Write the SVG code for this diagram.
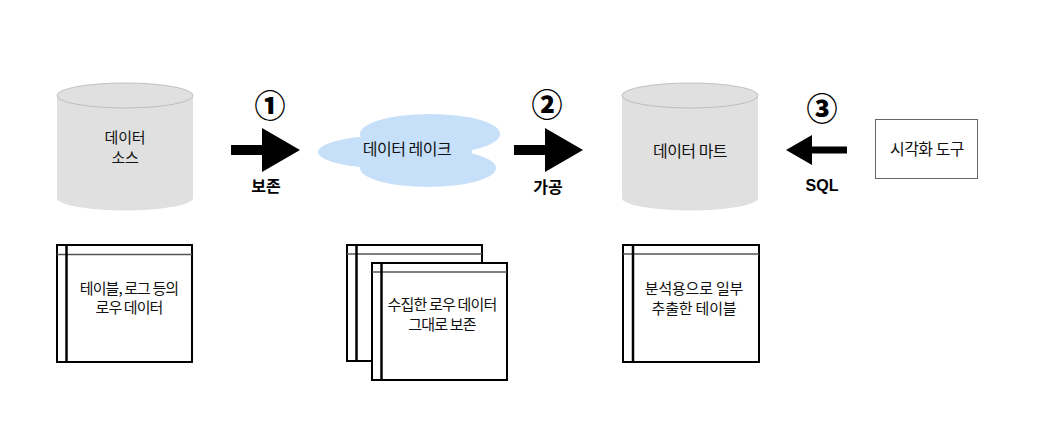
<svg xmlns="http://www.w3.org/2000/svg" width="1038" height="438" viewBox="0 0 1038 438">
<style>
.t{font-family:"Noto Sans CJK KR","Noto Sans",sans-serif;font-size:16px;letter-spacing:-0.5px;font-weight:400;fill:#111;text-anchor:middle}
.m{font-size:15px;letter-spacing:-0.2px}
.b{font-weight:700;fill:#000;letter-spacing:0}
.num{font-family:"Noto Sans CJK KR",sans-serif;font-size:31px;font-weight:900;fill:#000;text-anchor:middle;dominant-baseline:central}
.cyl{fill:#e0e0e0}
.cyltop{fill:#e0e0e0;stroke:#b4b4b4;stroke-width:0.8}
.doc{fill:#fff;stroke:#000;stroke-width:2}
.hdr{stroke:#555;stroke-width:1.5}
.vl{stroke:#000;stroke-width:2.5}
.arr{fill:#000}
</style>
<rect width="1038" height="438" fill="#fff"/>

<g id="data-source">
<path class="cyl" d="M57,95.5 L57,198 A68,12.5 0 0 0 193,198 L193,95.5 Z"/>
<ellipse class="cyltop" cx="125" cy="95.5" rx="68" ry="12.5"/>
<text class="t m" x="125" y="143">데이터</text>
<text class="t m" x="125" y="163">소스</text>
</g>

<g id="data-lake">
<g fill="#c7e0fa">
<ellipse cx="430" cy="134" rx="70" ry="20"/>
<ellipse cx="395" cy="152" rx="77" ry="17"/>
<ellipse cx="428" cy="168" rx="68" ry="19"/>
</g>
<text class="t" x="407" y="155">데이터 레이크</text>
</g>

<g id="data-mart">
<path class="cyl" d="M622,95.5 L622,198 A68,12.5 0 0 0 758,198 L758,95.5 Z"/>
<ellipse class="cyltop" cx="690" cy="95.5" rx="68" ry="12.5"/>
<text class="t" x="690" y="157">데이터 마트</text>
</g>

<g id="viz-tool">
<rect x="875.5" y="119.5" width="102" height="59" fill="#fff" stroke="#666" stroke-width="1"/>
<text class="t" x="927" y="155">시각화 도구</text>
</g>

<g id="doc-source">
<rect class="doc" x="57" y="245" width="135" height="117"/>
<line class="hdr" x1="57" y1="254.5" x2="192" y2="254.5"/>
<line class="vl" x1="66.5" y1="245" x2="66.5" y2="362"/>
<text class="t" x="129" y="294" style="font-size:15px;letter-spacing:-0.9px">테이블, 로그 등의</text>
<text class="t" x="129" y="313" style="font-size:15px;letter-spacing:-0.9px">로우 데이터</text>
</g>

<g id="doc-lake">
<rect class="doc" x="347" y="245" width="135" height="116"/>
<line class="hdr" x1="347" y1="254" x2="482" y2="254"/>
<line class="vl" x1="356.5" y1="245" x2="356.5" y2="361"/>
<rect class="doc" x="372" y="263" width="135" height="117"/>
<line class="hdr" x1="372" y1="272" x2="507" y2="272"/>
<line class="vl" x1="381.5" y1="263" x2="381.5" y2="380"/>
<text class="t" x="442" y="310" style="font-size:15px;letter-spacing:-0.8px">수집한 로우 데이터</text>
<text class="t" x="442" y="330" style="font-size:15px;letter-spacing:-0.8px">그대로 보존</text>
</g>

<g id="doc-mart">
<rect class="doc" x="623" y="245" width="136" height="117"/>
<line class="hdr" x1="623" y1="254" x2="759" y2="254"/>
<line class="vl" x1="633" y1="245" x2="633" y2="362"/>
<text class="t m" x="694" y="293.5">분석용으로 일부</text>
<text class="t m" x="694" y="313.5">추출한 테이블</text>
</g>

<g id="connectors">
<path class="arr" d="M231,145 L262,145 L262,128 L300,150 L262,172 L262,155 L231,155 Z"/>
<text class="num" x="270" y="103">①</text>
<text class="t b" x="266" y="192">보존</text>

<path class="arr" d="M514,145 L545,145 L545,128 L583,150 L545,172 L545,155 L514,155 Z"/>
<text class="num" x="547" y="102">②</text>
<text class="t b" x="548" y="193">가공</text>

<path class="arr" d="M847,146.5 L812,146.5 L812,135 L786,150 L812,165 L812,153.5 L847,153.5 Z"/>
<text class="num" x="822" y="106">③</text>
<text class="t b" x="822" y="191" style="font-family:'Liberation Sans',sans-serif;font-size:16px">SQL</text>
</g>
</svg>
